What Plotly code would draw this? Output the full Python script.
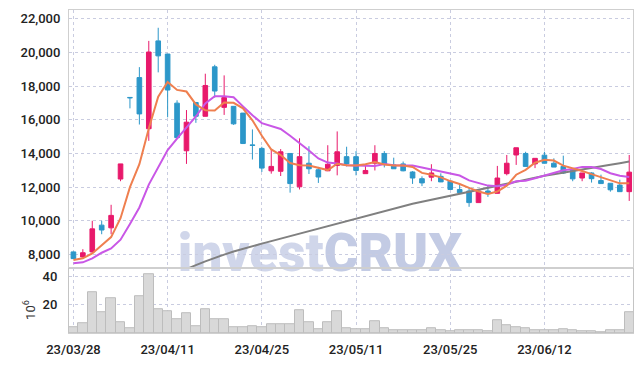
import plotly.graph_objects as go

dates = ["23/03/28", "23/03/29", "23/03/30", "23/03/31",
         "23/04/03", "23/04/04", "23/04/05", "23/04/06", "23/04/07", "23/04/10", "23/04/11",
         "23/04/12", "23/04/13", "23/04/14", "23/04/17", "23/04/18", "23/04/19", "23/04/20",
         "23/04/21", "23/04/24", "23/04/25", "23/04/26", "23/04/27", "23/04/28",
         "23/05/02", "23/05/03", "23/05/04", "23/05/08", "23/05/09", "23/05/10", "23/05/11",
         "23/05/12", "23/05/15", "23/05/16", "23/05/17", "23/05/18", "23/05/19", "23/05/22",
         "23/05/23", "23/05/24", "23/05/25", "23/05/26", "23/05/30", "23/05/31",
         "23/06/01", "23/06/02", "23/06/05", "23/06/07", "23/06/08", "23/06/09", "23/06/12",
         "23/06/13", "23/06/14", "23/06/15", "23/06/16", "23/06/19", "23/06/20", "23/06/21",
         "23/06/22", "23/06/23"]

open_ = [8150, 7850, 8150, 9740, 9580, 12480, 17330, 18510, 15470, 20690,
         19910, 16990, 14160, 17030, 16210, 19150, 16740, 16800, 16400, 14510,
         14300, 12970, 12940, 14000, 12020, 13420, 13030, 12970, 13290, 13810,
         13810, 12800, 13420, 14000, 13320, 13380, 12900, 12500, 12590, 12640,
         12350, 11860, 11770, 11080, 11770, 11630, 12800, 13910, 14000, 13380,
         13900, 13420, 13230, 13030, 12540, 12840, 12390, 12230, 12120, 11730]
high = [8170, 8310, 10000, 10000, 10950, 13380, 17330, 19130, 20690, 21470,
        19910, 17160, 16580, 17030, 18740, 19270, 18640, 16800, 16400, 15430,
        14400, 14260, 14260, 14000, 14900, 14430, 13200, 14490, 15310, 14400,
        14140, 13360, 14490, 14140, 13750, 13520, 12950, 12640, 13360, 12820,
        12350, 12190, 12000, 11770, 12090, 13260, 13910, 14340, 14100, 13710,
        14100, 13710, 13870, 13030, 12840, 12880, 12740, 12230, 12440, 13910]
low = [7720, 7810, 8030, 9200, 9200, 12350, 16680, 15720, 14750, 18820,
       16150, 14940, 13380, 15820, 16200, 17320, 16290, 15700, 14560, 13640,
       12900, 12800, 12660, 11670, 11860, 12780, 12250, 12970, 12700, 13230,
       12700, 12800, 12990, 13170, 13080, 12940, 12190, 12060, 12350, 12300,
       11850, 11660, 10830, 11080, 11420, 11620, 12700, 13320, 13230, 13130,
       13400, 13190, 12780, 12350, 12350, 12270, 12210, 11730, 11720, 11180]
close = [7750, 8100, 9520, 9450, 10320, 13380, 17310, 16350, 20030, 19800,
         17770, 14940, 15860, 16210, 18040, 17710, 17320, 15760, 14590, 14480,
         13130, 13230, 14100, 12210, 13810, 13090, 12600, 13360, 14100, 13380,
         12990, 12990, 14000, 13380, 13090, 12970, 12540, 12250, 12840, 12310,
         11860, 11670, 11080, 11770, 11610, 12540, 13420, 14340, 13230, 13710,
         13420, 13190, 12840, 12490, 12840, 12500, 12210, 11840, 11730, 12890]

ma5 = [7672, 7766, 8058, 8550, 9028, 10154, 11996, 13362, 15478, 17374,
       18252, 17778, 17680, 16916, 16564, 16552, 17028, 17008, 16684, 15972,
       15056, 14238, 13906, 13430, 13296, 13288, 13162, 13014, 13392, 13306,
       13286, 13364, 13492, 13348, 13290, 13286, 13196, 12846, 12738, 12582,
       12360, 12186, 11952, 11738, 11598, 11734, 12084, 12736, 13028, 13448,
       13624, 13578, 13278, 13130, 12956, 12772, 12576, 12376, 12224, 12234]
ma10 = [7474, 7532, 7766, 8099, 8351, 8877, 9813, 10789, 12152, 13201,
        14203, 14887, 15521, 16197, 16969, 17402, 17403, 17344, 16800, 16268,
        15804, 15633, 15457, 15057, 14634, 14172, 13700, 13460, 13411, 13301,
        13287, 13263, 13253, 13370, 13298, 13286, 13280, 13169, 13043, 12936,
        12823, 12691, 12399, 12238, 12090, 12047, 12135, 12344, 12383, 12523,
        12679, 12831, 13007, 13079, 13202, 13198, 13077, 12827, 12677, 12595]
ma60 = [None, None, None, None, None, None, None, None, None, None,
        None, 6900, 7150, 7360, 7590, 7800, 7990, 8170, 8340, 8500,
        8640, 8790, 8940, 9090, 9240, 9390, 9540, 9690, 9840, 9990,
        10140, 10290, 10440, 10590, 10730, 10870, 11010, 11130, 11250, 11370,
        11490, 11610, 11730, 11850, 11970, 12090, 12210, 12340, 12460, 12570,
        12670, 12770, 12870, 12970, 13060, 13150, 13240, 13330, 13420, 13520]

volume = [4.3, 7.0, 28.9, 14.5, 24.1, 7.7, 3.6, 25.5, 41.2, 16.6,
          15.2, 9.8, 13.9, 5.0, 16.6, 9.8, 9.8, 4.3, 4.3, 5.0,
          4.3, 6.3, 6.3, 6.3, 15.9, 7.7, 2.9, 7.7, 15.2, 3.1,
          2.5, 2.5, 8.2, 3.1, 2.0, 1.8, 2.0, 2.0, 3.6, 2.0,
          1.6, 1.8, 2.3, 1.8, 1.6, 9.3, 5.7, 4.3, 3.1, 2.3,
          2.0, 1.8, 2.9, 1.8, 1.6, 1.6, 0.9, 1.8, 1.8, 14.5]

x_ticks = ["23/03/28", "23/04/11", "23/04/25", "23/05/11", "23/05/25", "23/06/12"]
price_ticks = [8000, 10000, 12000, 14000, 16000, 18000, 20000, 22000]
vol_ticks = [20, 40]

RED = "#e8196b"
BLUE = "#2c97c9"
GRID = "#c9cce0"
TXT = "#222222"

fig = go.Figure()
fig.add_trace(go.Candlestick(
    x=dates, open=open_, high=high, low=low, close=close,
    increasing=dict(line=dict(color=RED, width=1), fillcolor=RED),
    decreasing=dict(line=dict(color=BLUE, width=1), fillcolor=BLUE),
    whiskerwidth=0, xaxis="x", yaxis="y", showlegend=False))
fig.add_trace(go.Scatter(x=dates, y=ma60, mode="lines", line=dict(color="#808080", width=2),
                         xaxis="x", yaxis="y", showlegend=False))
fig.add_trace(go.Scatter(x=dates, y=ma10, mode="lines", line=dict(color="#c957e6", width=2),
                         xaxis="x", yaxis="y", showlegend=False))
fig.add_trace(go.Scatter(x=dates, y=ma5, mode="lines", line=dict(color="#ef7f4f", width=2),
                         xaxis="x", yaxis="y", showlegend=False))
fig.add_trace(go.Bar(x=dates, y=volume, marker=dict(color="#d9d9d9", line=dict(color="#bdbdbd", width=1)),
                     xaxis="x2", yaxis="y2", showlegend=False))

split = 0.2006
xr = [-0.47, 59.4]
common_x = dict(type="category", range=xr, tickvals=x_ticks, showgrid=True, gridcolor=GRID,
                griddash="dot", gridwidth=1, zeroline=False, showline=True, mirror=True,
                linecolor="#cfcfcf", linewidth=1, fixedrange=True)

fig.update_layout(
    width=643, height=366,
    margin=dict(l=69, r=10, t=9, b=28),
    paper_bgcolor="white", plot_bgcolor="rgba(0,0,0,0)",
    bargap=0,
    showlegend=False,
    font=dict(family="Roboto", color=TXT),
    xaxis=dict(domain=[0, 1], anchor="y", showticklabels=False,
               rangeslider=dict(visible=False), **common_x),
    xaxis2=dict(domain=[0, 1], anchor="y2", ticktext=x_ticks, ticks="",
                ticklabelstandoff=4,
                tickfont=dict(family="Roboto", size=13, color=TXT, weight=500), **common_x),
    yaxis=dict(domain=[split, 1], anchor="x", range=[7181, 22526], tickvals=price_ticks,
               tickformat=",d", showgrid=True, gridcolor=GRID, griddash="dot", zeroline=False,
               showline=True, mirror=True, linecolor="#cfcfcf", ticks="", ticklabelstandoff=5,
               tickfont=dict(family="Roboto", size=13, color=TXT, weight=500), fixedrange=True),
    yaxis2=dict(domain=[0, split], anchor="x2", range=[0, 45.5], tickvals=vol_ticks,
                showgrid=True, gridcolor=GRID, griddash="dot", zeroline=False,
                showline=True, mirror=True, linecolor="#c4c4c4", ticks="", ticklabelstandoff=8,
                tickfont=dict(family="Roboto", size=13, color=TXT, weight=500), fixedrange=True),
    shapes=[dict(type="rect", xref="paper", yref="paper", x0=0.19, x1=0.70, y0=split, y1=0.319,
                 line=dict(width=0), fillcolor="rgba(0,0,0,0)", layer="below",
                 label=dict(text="invest<span style='color:#c3cbe4'>CRUX</span>",
                            textposition="middle center",
                            font=dict(family="Roboto", size=53, color="#d0d6ea", weight=900)))],
    annotations=[dict(text="10<sup>6</sup>", xref="paper", yref="paper", x=-0.07, y=0.07,
                      xanchor="center", yanchor="middle",
                      textangle=-90, showarrow=False, font=dict(family="Roboto", size=13, color="#333"))],
)

fig.write_html("out.html")
